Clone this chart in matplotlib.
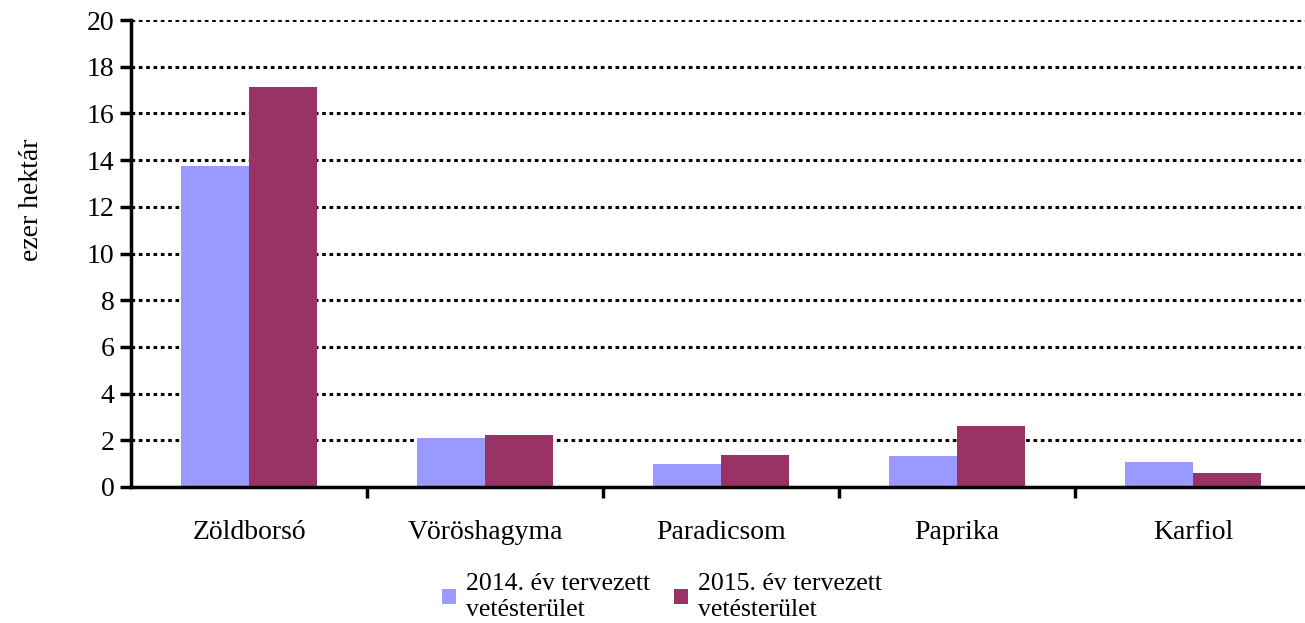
import numpy as np
import matplotlib.pyplot as plt

plt.rcParams["font.family"] = ["Liberation Serif", "DejaVu Serif"]

# adatok
categories = ["Zöldborsó", "Vöröshagyma", "Paradicsom", "Paprika", "Karfiol"]
area_2014 = [13.75, 2.09, 0.98, 1.33, 1.07]
area_2015 = [17.13, 2.23, 1.37, 2.61, 0.6]
labels = ["2014. év tervezett\nvetésterület", "2015. év tervezett\nvetésterület"]

fig = plt.figure(figsize=(13.05, 6.23), dpi=100)
ax = fig.add_axes([131 / 1305, 1 - 487 / 623, 1180 / 1305, 467 / 623])

x = np.arange(len(categories))
w = 0.288
ax.bar(x - w / 2, area_2014, w, color="#9999FF", label=labels[0], zorder=2)
ax.bar(x + w / 2, area_2015, w, color="#993366", label=labels[1], zorder=2)

ax.set_xlim(-0.5, len(categories) - 0.5)
ax.set_ylim(0, 20)
ax.set_yticks(range(0, 21, 2))
ax.yaxis.grid(True, color="black", linestyle=(0, (1.2, 1.2)), linewidth=2.2, zorder=1)

ax.set_xticks(x)
ax.set_xticklabels(categories)
ax.set_xticks(np.arange(0.5, len(categories) - 0.5), minor=True)
ax.tick_params(axis="x", which="major", length=0, pad=24, labelsize=20)
ax.tick_params(axis="x", which="minor", length=8, width=2.5, direction="out")
ax.tick_params(axis="y", length=8, width=2.5, labelsize=20, pad=4)

for s in ["top", "right"]:
    ax.spines[s].set_visible(False)
for s in ["left", "bottom"]:
    ax.spines[s].set_linewidth(2.5)

ax.set_ylabel("ezer hektár", fontsize=20)
ax.yaxis.set_label_coords(-0.0737, 0.615)

fig.legend(loc="center", bbox_to_anchor=(662 / 1305, 1 - 597 / 623), ncol=2,
           frameon=False, fontsize=18.5, handlelength=0.55, handleheight=0.55,
           handletextpad=0.4, columnspacing=0.9, labelspacing=0.2)

fig.savefig("out.png", dpi=100)
